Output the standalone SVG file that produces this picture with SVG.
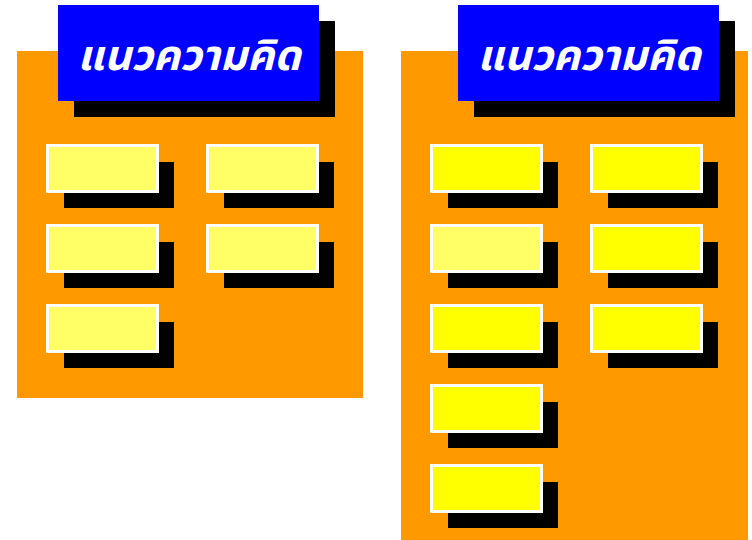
<svg xmlns="http://www.w3.org/2000/svg" width="752" height="540" viewBox="0 0 752 540">
<style>
.panel{fill:#FF9900}
.title{fill:#0000FF}
.sh{fill:#000000}
.card{stroke:#FFFFFF;stroke-width:3}
.y1{fill:#FFFF66}
.y2{fill:#FFFF00}
.t{fill:#FFFFFF;font-family:"Noto Sans Thai","Noto Sans","DejaVu Sans",sans-serif;font-size:42px;font-weight:bold;font-style:italic;text-anchor:middle}
</style>
<rect width="752" height="540" fill="#FFFFFF"/>
<g id="panel-left">
<rect class="panel" x="17" y="51" width="346" height="347"/>
<rect class="sh" x="74" y="21" width="261" height="96"/>
<rect class="title" x="58" y="5" width="261" height="96"/>
<text class="t" x="189" y="70">แนวความคิด</text>
</g>
<g id="panel-right">
<rect class="panel" x="401" y="51" width="347" height="489"/>
<rect class="sh" x="474" y="21" width="261" height="96"/>
<rect class="title" x="458" y="5" width="261" height="96"/>
<text class="t" x="589" y="70">แนวความคิด</text>
</g>
<g id="L1"><rect class="sh" x="64" y="162" width="110" height="46"/><rect class="card y1" x="47.5" y="145.5" width="110" height="46"/></g>
<g id="L2"><rect class="sh" x="224" y="162" width="110" height="46"/><rect class="card y1" x="207.5" y="145.5" width="110" height="46"/></g>
<g id="L3"><rect class="sh" x="64" y="242" width="110" height="46"/><rect class="card y1" x="47.5" y="225.5" width="110" height="46"/></g>
<g id="L4"><rect class="sh" x="224" y="242" width="110" height="46"/><rect class="card y1" x="207.5" y="225.5" width="110" height="46"/></g>
<g id="L5"><rect class="sh" x="64" y="322" width="110" height="46"/><rect class="card y1" x="47.5" y="305.5" width="110" height="46"/></g>
<g id="R1"><rect class="sh" x="448" y="162" width="110" height="46"/><rect class="card y2" x="431.5" y="145.5" width="110" height="46"/></g>
<g id="R2"><rect class="sh" x="608" y="162" width="110" height="46"/><rect class="card y2" x="591.5" y="145.5" width="110" height="46"/></g>
<g id="R3"><rect class="sh" x="448" y="242" width="110" height="46"/><rect class="card y1" x="431.5" y="225.5" width="110" height="46"/></g>
<g id="R4"><rect class="sh" x="608" y="242" width="110" height="46"/><rect class="card y2" x="591.5" y="225.5" width="110" height="46"/></g>
<g id="R5"><rect class="sh" x="448" y="322" width="110" height="46"/><rect class="card y2" x="431.5" y="305.5" width="110" height="46"/></g>
<g id="R6"><rect class="sh" x="608" y="322" width="110" height="46"/><rect class="card y2" x="591.5" y="305.5" width="110" height="46"/></g>
<g id="R7"><rect class="sh" x="448" y="402" width="110" height="46"/><rect class="card y2" x="431.5" y="385.5" width="110" height="46"/></g>
<g id="R8"><rect class="sh" x="448" y="482" width="110" height="46"/><rect class="card y2" x="431.5" y="465.5" width="110" height="46"/></g>
<g id="connectors"></g>
</svg>
